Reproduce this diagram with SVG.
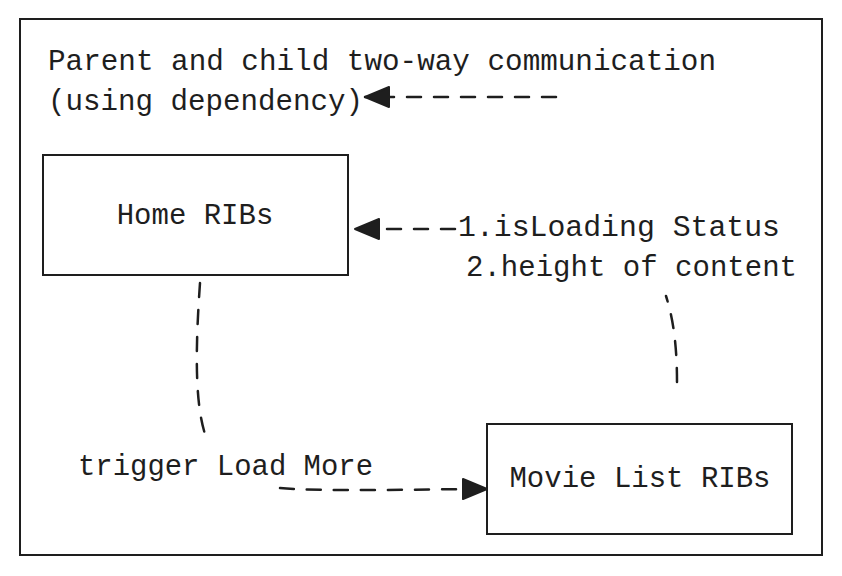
<svg xmlns="http://www.w3.org/2000/svg" width="842" height="576" viewBox="0 0 842 576">
<style>
.box{fill:#fff;stroke:#1e1e1e;stroke-width:2}
.t{font-family:"Liberation Mono","DejaVu Sans Mono",monospace;font-size:29px;fill:#1e1e1e}
.c{fill:none;stroke:#1e1e1e;stroke-width:2.5;stroke-dasharray:14 13;stroke-linecap:round}
</style>
<defs>
<marker id="ah" markerWidth="28" markerHeight="24" refX="25" refY="11" orient="auto" markerUnits="userSpaceOnUse">
<path d="M1,1 L25,11 L1,21 Z" fill="#1e1e1e" stroke="#1e1e1e" stroke-width="2" stroke-linejoin="round"/>
</marker>
</defs>
<rect x="0" y="0" width="842" height="576" fill="#fff"/>
<g id="frame">
<rect class="box" x="20" y="19" width="802" height="536"/>
</g>
<g id="title">
<text class="t" x="48" y="70" textLength="668" lengthAdjust="spacingAndGlyphs">Parent and child two-way communication</text>
<text class="t" x="48" y="110" textLength="315" lengthAdjust="spacingAndGlyphs">(using dependency)</text>
</g>
<g id="home">
<rect class="box" x="43" y="155" width="305" height="120"/>
<text class="t" x="195" y="224" text-anchor="middle">Home RIBs</text>
</g>
<g id="movie">
<rect class="box" x="487" y="424" width="305" height="110"/>
<text class="t" x="640" y="487" text-anchor="middle">Movie List RIBs</text>
</g>
<g id="connectors">
<path class="c" d="M556,97 L365,97" marker-end="url(#ah)"/>
<path class="c" d="M455,229 L355,229" marker-end="url(#ah)"/>
<path class="c" d="M200,283 C196,340 194,400 205,434"/>
<path class="c" d="M280,488 C330,492 420,489 487,489" marker-end="url(#ah)"/>
<path class="c" d="M677,382 C677,340 672,315 666,296"/>
</g>
<g id="labels">
<text class="t" x="458" y="236" textLength="322" lengthAdjust="spacingAndGlyphs">1.isLoading Status</text>
<text class="t" x="466" y="276" textLength="331" lengthAdjust="spacingAndGlyphs">2.height of content</text>
<text class="t" x="78" y="475" textLength="295" lengthAdjust="spacingAndGlyphs">trigger Load More</text>
</g>
</svg>
